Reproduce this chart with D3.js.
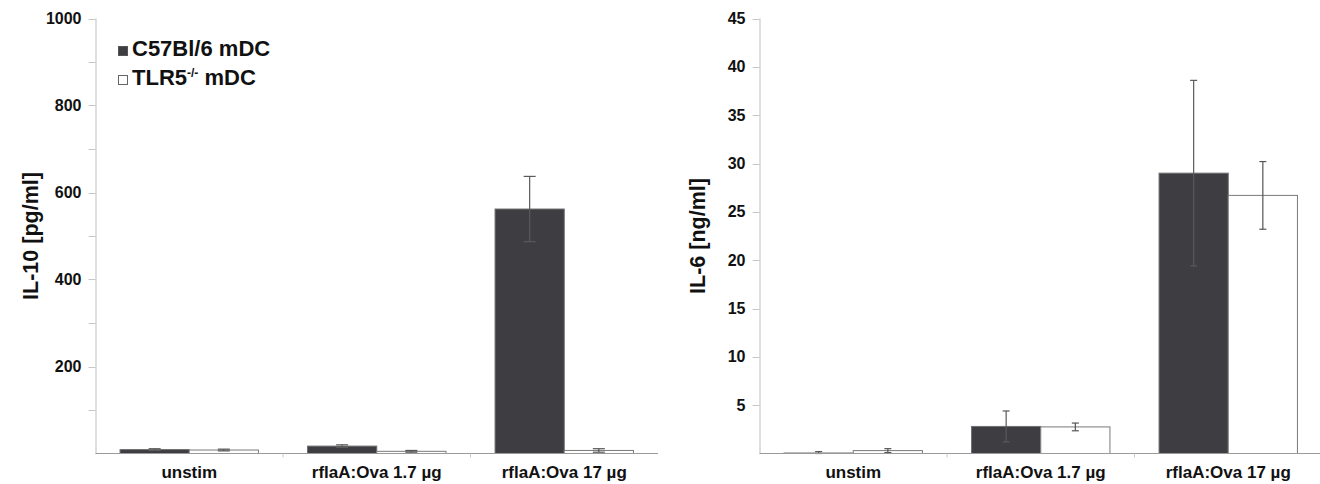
<!DOCTYPE html>
<html>
<head>
<meta charset="utf-8">
<script src="https://cdn.jsdelivr.net/npm/d3@7"></script>
<style>
  body { margin: 0; background: #fff; }
  text { font-family: "Liberation Sans", Arial, sans-serif; font-weight: bold; fill: #111; }
</style>
</head>
<body>
<div id="chart"></div>
<script>
// Données
const categories = ["unstim", "rflaA:Ova 1.7 µg", "rflaA:Ova 17 µg"];
const groups = ["C57Bl/6 mDC", "TLR5-/- mDC"];

// IL-10 [pg/ml]
const il10Wt = [9, 17, 562];
const il10WtErr = [2, 3, 75];
const il10Ko = [8, 5, 7];
const il10KoErr = [2, 2, 4];

// IL-6 [ng/ml]
const il6Wt = [0.05, 2.8, 29.0];
const il6WtErr = [0.15, 1.6, 9.6];
const il6Ko = [0.3, 2.75, 26.7];
const il6KoErr = [0.2, 0.4, 3.5];

const il10Ticks = [200, 400, 600, 800, 1000];
const il6Ticks = [5, 10, 15, 20, 25, 30, 35, 40, 45];

const width = 1320;
const height = 484;

const svg = d3.select("#chart").append("svg")
  .attr("width", width)
  .attr("height", height);

const darkFill = "#3e3d42";

function drawPanel(opts) {
  const { x0, x1, yMax, minorStep, ticks, wt, wtErr, ko, koErr, title, titleX, capW } = opts;
  const yTop = 18.5, yBase = 453.5;

  const x = d3.scaleBand().domain(categories).range([x0, x1]).paddingInner(0).paddingOuter(0);
  const inner = d3.scaleBand().domain(groups).range([0, x.bandwidth()]).paddingOuter(0.355).paddingInner(0);
  const y = d3.scaleLinear().domain([0, yMax]).range([yBase, yTop]);

  const g = svg.append("g");

  // Axe vertical (ligne + graduations)
  const minor = d3.range(minorStep, yMax + minorStep / 2, minorStep);
  g.append("line")
    .attr("x1", x0 + 0.5).attr("x2", x0 + 0.5)
    .attr("y1", y(yMax)).attr("y2", yBase)
    .attr("stroke", "#c8c8c8").attr("stroke-width", 1.2);
  g.selectAll(".tk").data(minor).enter().append("line")
    .attr("x1", x0 - 7).attr("x2", x0)
    .attr("y1", d => Math.round(y(d)) + 0.5).attr("y2", d => Math.round(y(d)) + 0.5)
    .attr("stroke", "#c8c8c8");
  g.selectAll(".tl").data(ticks).enter().append("text")
    .attr("x", x0 - 14).attr("y", d => y(d) + 5.5)
    .attr("text-anchor", "end")
    .style("font-size", "16px")
    .text(d => d);

  // Titre de l'axe
  g.append("text")
    .attr("transform", `translate(${titleX}, ${(yTop + yBase) / 2}) rotate(-90)`)
    .attr("text-anchor", "middle")
    .style("font-size", "21.5px")
    .text(title);

  // Barres
  const series = [
    { key: groups[0], vals: wt, err: wtErr, fill: darkFill, stroke: "#6e6e70", errColor: "#5a5a5a" },
    { key: groups[1], vals: ko, err: koErr, fill: "#ffffff", stroke: "#7a7a7a", errColor: "#555" }
  ];

  series.forEach(s => {
    const bars = g.append("g");
    bars.selectAll("rect").data(categories).enter().append("rect")
      .attr("x", c => x(c) + inner(s.key))
      .attr("width", inner.bandwidth())
      .attr("y", (c, i) => y(s.vals[i]))
      .attr("height", (c, i) => yBase - y(s.vals[i]))
      .attr("fill", s.fill)
      .attr("stroke", s.stroke)
      .attr("stroke-width", 1);

    // Barres d'erreur
    const eb = g.append("g").attr("stroke", s.errColor).attr("stroke-width", 1.2);
    categories.forEach((c, i) => {
      const cx = x(c) + inner(s.key) + inner.bandwidth() / 2;
      const lo = Math.max(0, s.vals[i] - s.err[i]);
      const hi = s.vals[i] + s.err[i];
      eb.append("line").attr("x1", cx).attr("x2", cx).attr("y1", y(lo)).attr("y2", y(hi));
      eb.append("line").attr("x1", cx - capW).attr("x2", cx + capW).attr("y1", y(hi)).attr("y2", y(hi));
      eb.append("line").attr("x1", cx - capW).attr("x2", cx + capW).attr("y1", y(lo)).attr("y2", y(lo));
    });
  });

  // Axe horizontal
  g.append("line")
    .attr("x1", x0).attr("x2", x1)
    .attr("y1", yBase).attr("y2", yBase)
    .attr("stroke", "#9a9a9a").attr("stroke-width", 1.2);
  g.selectAll(".sep").data(categories.slice(1)).enter().append("line")
    .attr("x1", c => x(c)).attr("x2", c => x(c))
    .attr("y1", yBase).attr("y2", yBase + 4)
    .attr("stroke", "#c8c8c8");

  g.selectAll(".cl").data(categories).enter().append("text")
    .attr("x", c => x(c) + x.bandwidth() / 2)
    .attr("y", 478)
    .attr("text-anchor", "middle")
    .style("font-size", "17px")
    .text(c => c);
}

drawPanel({
  x0: 95.5, x1: 658, yMax: 1000, minorStep: 100, ticks: il10Ticks,
  wt: il10Wt, wtErr: il10WtErr, ko: il10Ko, koErr: il10KoErr,
  title: "IL-10 [pg/ml]", titleX: 38, capW: 6
});

drawPanel({
  x0: 759.5, x1: 1322, yMax: 45, minorStep: 5, ticks: il6Ticks,
  wt: il6Wt, wtErr: il6WtErr, ko: il6Ko, koErr: il6KoErr,
  title: "IL-6 [ng/ml]", titleX: 705, capW: 3.5
});

// Légende
const legend = svg.append("g").attr("transform", "translate(118, 0)");
const legendItems = [
  { label: "C57Bl/6 mDC", fill: darkFill, stroke: "#555", y: 46 },
  { label: "TLR5", sup: "-/-", tail: " mDC", fill: "#fff", stroke: "#666", y: 75 }
];
legendItems.forEach(it => {
  legend.append("rect")
    .attr("x", 0.5).attr("y", it.y + 0.5)
    .attr("width", 9).attr("height", 9)
    .attr("fill", it.fill).attr("stroke", it.stroke);
  const t = legend.append("text")
    .attr("x", 14).attr("y", it.y + 9.5)
    .style("font-size", "22px");
  t.append("tspan").text(it.label);
  if (it.sup) {
    t.append("tspan").attr("dy", -8).style("font-size", "12px").text(it.sup);
    t.append("tspan").attr("dy", 8).text(it.tail);
  }
});
</script>
</body>
</html>
